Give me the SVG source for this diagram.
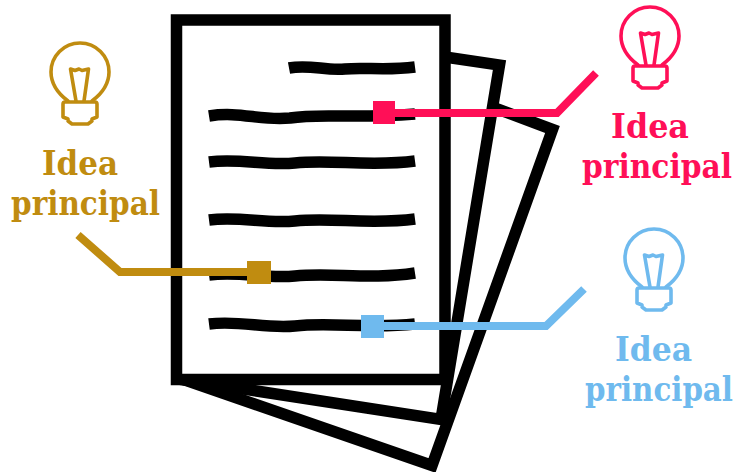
<svg xmlns="http://www.w3.org/2000/svg" width="737" height="472" viewBox="0 0 737 472">
<style>
.page{fill:#fff;stroke:#000;stroke-width:11.500;stroke-linejoin:miter}
.ln{fill:none;stroke:#000;stroke-width:11.500}
.conn{fill:none;stroke-width:8;stroke-linejoin:miter}
.bulb{fill:none;stroke-width:3.6;stroke-linejoin:round;stroke-linecap:round}
text{font-family:"DejaVu Serif","Liberation Serif",serif;font-weight:700;font-stretch:condensed;font-size:33px}
.gold{stroke:#c08c10}.red{stroke:#ff0f57}.blue{stroke:#6fbaee}
.tgold{fill:#c08c10}.tred{fill:#ff0f57}.tblue{fill:#6fbaee}
</style>
<defs>
<g id="bulb">
<path d="M-12 29C-20 23-29 14-29 0A29 29 0 0 1 29 0C29 14 20 23 12 29"/>
<path d="M-15 30H15Q17 30 17 32V45L12 47V49L8 52H-8L-12 49V47L-17 45V32Q-17 30-15 30Z"/>
<path d="M-4 29L-9.500-3L-5-1.500L-1-3L2-1.500L8.500-3L4 29"/>
</g>
</defs>
<g id="pages">
<path id="page3" class="page" d="M430 84L552.500 129.500L432 465.500L185 380Z"/>
<path id="page2" class="page" d="M445 57L499.500 65L441 419.500L185 380Z"/>
<path id="page1" class="page" d="M176.500 20H445V379.500H176.500Z"/>
</g>
<g id="text-lines">
<path class="ln" d="M289 68C310 64 325 71 345 69C365 67 385 71 415 67"/>
<path class="ln" d="M209 116C240 111 260 121 290 118C320 113 350 119 415 114"/>
<path class="ln" d="M209 162C240 158 265 166 295 163C330 159 370 167 415 161"/>
<path class="ln" d="M209 220C240 216 265 224 295 221C330 217 370 225 415 219"/>
<path class="ln" d="M209 275C240 271 265 279 295 276C330 272 370 280 415 273"/>
<path class="ln" d="M209 324C240 320 265 329 295 326C330 322 370 329 415 324"/>
</g>
<g id="connectors">
<path class="conn gold" d="M78 235L120 272H259"/>
<path class="conn red" d="M596 73L557 113H385"/>
<path class="conn blue" d="M584 289L546 326H372"/>
<rect x="247" y="261" width="24" height="23" fill="#c08c10"/>
<rect x="373" y="101" width="22" height="23" fill="#ff0f57"/>
<rect x="361" y="315" width="23" height="23" fill="#6fbaee"/>
</g>
<g id="idea-gold">
<use href="#bulb" x="80" y="72" class="bulb gold"/>
<text class="tgold" x="42" y="175" textLength="76" lengthAdjust="spacingAndGlyphs">Idea</text>
<text class="tgold" x="11" y="215" textLength="149" lengthAdjust="spacingAndGlyphs">principal</text>
</g>
<g id="idea-red">
<use href="#bulb" x="650" y="36" class="bulb red"/>
<text class="tred" x="611" y="138" textLength="78" lengthAdjust="spacingAndGlyphs">Idea</text>
<text class="tred" x="582" y="178" textLength="150" lengthAdjust="spacingAndGlyphs">principal</text>
</g>
<g id="idea-blue">
<use href="#bulb" x="654" y="258" class="bulb blue"/>
<text class="tblue" x="615" y="361" textLength="77" lengthAdjust="spacingAndGlyphs">Idea</text>
<text class="tblue" x="585" y="401" textLength="148" lengthAdjust="spacingAndGlyphs">principal</text>
</g>
</svg>
